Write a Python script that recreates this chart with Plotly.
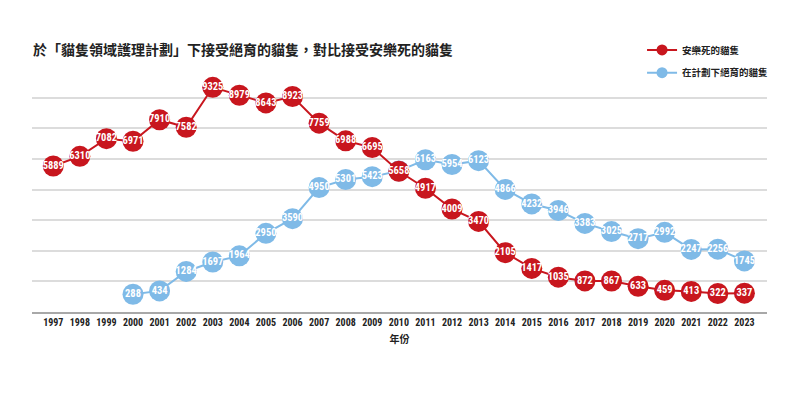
import plotly.graph_objects as go

years = list(range(1997, 2024))
euthanised = [5889, 6310, 7082, 6971, 7910, 7582, 9325, 8979, 8643, 8923, 7759, 6988, 6695,
              5658, 4917, 4009, 3470, 2105, 1417, 1035, 872, 867, 633, 459, 413, 322, 337]
tnr_years = list(range(2000, 2024))
tnr = [288, 434, 1284, 1697, 1964, 2950, 3590, 4950, 5301, 5423, 5675, 6163, 5954, 6123,
       4866, 4232, 3946, 3383, 3025, 2717, 2992, 2247, 2256, 1745]

name_red = "安樂死的貓隻"
name_blue = "在計劃下絕育的貓隻"
title = "於「貓隻領域護理計劃」下接受絕育的貓隻，對比接受安樂死的貓隻"

RED = "#C8161E"
BLUE = "#7FBAE7"
CJK = "Noto Sans CJK TC, Noto Sans CJK SC, sans-serif"
NUM = "Liberation Sans Narrow, Roboto Condensed, Open Sans, Roboto, sans-serif"

# page body has an 8px margin; figure is sized to fit the 800x395 window
OFF = 8
W, H = 800 - OFF, 395 - OFF

fig = go.Figure()

fig.add_trace(go.Scatter(
    x=tnr_years, y=tnr, mode="lines+markers+text",
    text=[str(v) for v in tnr], textposition="middle center",
    textfont=dict(color="white", size=10.5, family=NUM, weight="bold"),
    line=dict(color=BLUE, width=2), marker=dict(color=BLUE, size=21),
    showlegend=False, cliponaxis=False, hoverinfo="x+y"))

fig.add_trace(go.Scatter(
    x=years, y=euthanised, mode="lines+markers+text",
    text=[str(v) for v in euthanised], textposition="middle center",
    textfont=dict(color="white", size=10.5, family=NUM, weight="bold"),
    line=dict(color=RED, width=2), marker=dict(color=RED, size=21),
    showlegend=False, cliponaxis=False, hoverinfo="x+y"))

# legend entries
fig.add_trace(go.Scatter(x=[None], y=[None], mode="lines+markers", name=name_red,
                         line=dict(color=RED, width=2), marker=dict(color=RED, size=11),
                         legend="legend"))
fig.add_trace(go.Scatter(x=[None], y=[None], mode="lines+markers", name=name_blue,
                         line=dict(color=BLUE, width=2), marker=dict(color=BLUE, size=11),
                         legend="legend2"))

y0 = -487
step = 1336
gridvals = [y0 + step * k for k in range(8)]

legend_common = dict(xanchor="left", yanchor="middle", bgcolor="rgba(0,0,0,0)",
                     font=dict(family=CJK, size=9.5, color="#222", weight="bold"),
                     itemwidth=30)

plot_top, plot_bot = 70 - OFF, 311.7 - OFF
plot_left, plot_right = 32 - OFF, 767 - OFF
ph = plot_bot - plot_top

fig.update_layout(
    width=W, height=H,
    margin=dict(l=plot_left, r=W - plot_right, t=plot_top, b=H - plot_bot, autoexpand=False),
    paper_bgcolor="white", plot_bgcolor="white",
    title=dict(text=title, x=(33 - OFF) / W, xanchor="left", y=1 - (50 - OFF) / H, yanchor="middle",
               font=dict(family=CJK, size=14, color="#222", weight="bold")),
    legend=dict(x=0.830, y=(311.7 - 50) / ph, **legend_common),
    legend2=dict(x=0.830, y=(311.7 - 72.7) / ph, **legend_common),
    xaxis=dict(range=[1996.2, 2023.85], tickmode="array", tickvals=years,
               ticktext=[str(y) for y in years], showgrid=False, zeroline=False,
               showline=True, linecolor="#A8A8A8", linewidth=2,
               tickfont=dict(family=NUM, size=10, color="#222", weight="bold"),
               title=dict(text="年份", font=dict(family=CJK, size=10, color="#222", weight="bold"),
                          standoff=9),
               fixedrange=True),
    yaxis=dict(range=[y0, 10081], tickmode="array", tickvals=gridvals, showticklabels=False,
               showgrid=True, gridcolor="#DCDCDC", gridwidth=1.5, zeroline=False,
               fixedrange=True),
)

fig.write_html("out.html")
